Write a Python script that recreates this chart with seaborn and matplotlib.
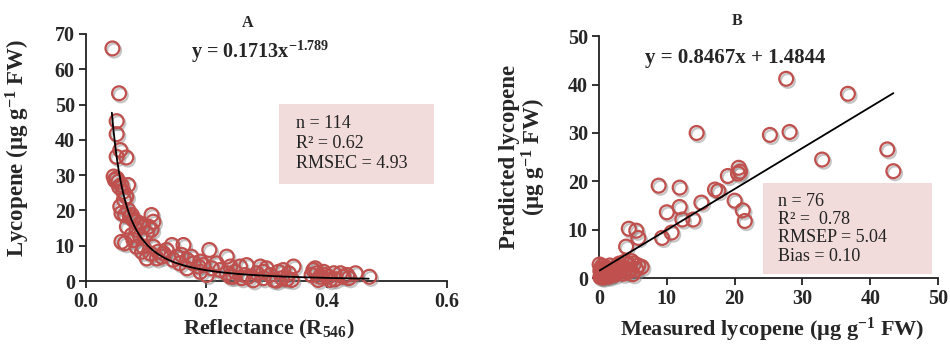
import matplotlib
matplotlib.use("Agg")
import numpy as np
import pandas as pd
import seaborn as sns
import matplotlib.pyplot as plt
import matplotlib.patheffects as pe
from matplotlib.patches import Rectangle

# ---------------- data ----------------
# Panel A: reflectance R546 vs lycopene (n = 114)
refl = [0.044, 0.055, 0.051, 0.051, 0.057, 0.051, 0.067, 0.046, 0.051, 0.054,
        0.059, 0.070, 0.062, 0.067, 0.057, 0.059, 0.065, 0.073, 0.079, 0.090,
        0.109, 0.112, 0.104, 0.084, 0.068, 0.059, 0.065, 0.079, 0.084, 0.093,
        0.101, 0.112, 0.120, 0.129, 0.143, 0.134, 0.151, 0.162, 0.159, 0.168,
        0.168, 0.179, 0.190, 0.201, 0.205, 0.217, 0.234, 0.240, 0.245, 0.256,
        0.267, 0.264, 0.278, 0.290, 0.295, 0.300, 0.312, 0.320, 0.328, 0.337,
        0.345, 0.342, 0.378, 0.384, 0.389, 0.398, 0.406, 0.412, 0.423, 0.434,
        0.448, 0.471, 0.048, 0.055, 0.063, 0.070, 0.076, 0.084, 0.095, 0.109,
        0.101, 0.090, 0.076, 0.095, 0.107, 0.118, 0.126, 0.145, 0.156, 0.175,
        0.187, 0.195, 0.209, 0.223, 0.240, 0.248, 0.259, 0.270, 0.284, 0.295,
        0.306, 0.317, 0.326, 0.334, 0.375, 0.381, 0.386, 0.395, 0.403, 0.414,
        0.428, 0.437, 0.234, 0.190]
lyco = [65.9, 53.2, 45.3, 41.6, 37.1, 35.2, 35.0, 29.6, 29.1, 28.1,
        27.2, 27.2, 25.3, 23.9, 21.1, 19.2, 18.7, 18.2, 17.3, 16.3,
        18.7, 16.8, 15.4, 14.5, 15.4, 11.1, 10.7, 11.6, 9.7, 8.3,
        6.4, 9.7, 8.3, 7.8, 10.2, 8.8, 6.9, 10.2, 7.4, 6.0,
        3.6, 5.0, 5.5, 1.7, 8.8, 5.0, 6.9, 4.1, 1.2, 4.1,
        4.5, 1.7, 0.2, 4.1, 2.6, 3.6, 0.3, 2.6, 3.1, 2.2,
        4.1, 0.3, 3.1, 2.2, 1.2, 1.7, 0.3, 2.2, 2.2, 1.7,
        2.2, 1.2, 28.6, 26.7, 23.0, 20.1, 18.7, 16.8, 15.4, 14.5,
        13.5, 12.6, 13.0, 9.7, 7.8, 6.4, 6.9, 6.0, 5.0, 6.9,
        4.1, 4.5, 3.6, 3.1, 1.2, 2.6, 0.8, 1.2, 2.2, 0.8,
        1.7, 0.1, 0.8, 0.5, 1.7, 3.6, 0.3, 2.6, 1.2, 0.5,
        1.2, 0.8, 2.2, 2.6]

# Panel B: measured vs predicted lycopene (n = 76)
measured = [27.6, 36.7, 14.4, 25.2, 28.1, 32.9, 42.5, 43.4, 8.8, 11.9,
            19.0, 20.6, 20.8, 20.5, 17.1, 17.6, 15.1, 20.0, 21.2, 21.5,
            10.0, 11.9, 12.3, 13.9, 9.3, 10.7, 4.4, 5.5, 5.8, 4.0,
            0.1, 0.2, 0.3, 0.3, 0.4, 0.5, 0.5, 0.6, 0.7, 0.8,
            0.9, 1.0, 1.0, 1.1, 1.2, 1.3, 1.4, 1.5, 1.6, 1.7,
            1.8, 2.0, 2.1, 2.2, 2.4, 2.5, 2.7, 2.9, 3.0, 3.2,
            3.4, 3.6, 3.8, 4.0, 4.2, 4.4, 4.6, 4.8, 5.0, 5.2,
            5.5, 5.8, 6.3, 0.2, 0.6, 1.5]
predicted = [41.2, 38.1, 30.0, 29.6, 30.2, 24.5, 26.6, 22.1, 19.1, 18.7,
             21.1, 22.8, 22.0, 21.6, 18.3, 18.0, 15.6, 16.0, 14.0, 11.8,
             13.6, 14.7, 12.1, 12.1, 8.3, 9.4, 10.2, 9.8, 8.3, 6.5,
             2.8, 1.5, 0.5, 2.0, 1.0, 0.3, 2.5, 1.2, 0.6, 1.8,
             0.4, 1.0, 2.2, 0.8, 1.5, 0.5, 1.9, 1.0, 2.6, 0.6,
             1.4, 0.9, 2.0, 1.3, 0.7, 1.8, 2.5, 1.2, 3.0, 1.6,
             2.2, 0.9, 3.4, 2.0, 1.2, 2.8, 1.6, 3.5, 0.8, 3.0,
             1.8, 2.6, 2.3, 0.2, 0.1, 0.3]

# fitted equations printed on the figure
pow_a, pow_b = 0.1713, -1.789
lin_m, lin_c = 0.8467, 1.4844
fit_a_range = (0.043, 0.47)
fit_b_range = (0.1, 43.4)

a_xticks = [0.0, 0.2, 0.4, 0.6]
a_xticklabels = ["0.0", "0.2", "0.4", "0.6"]
a_yticks = [0, 10, 20, 30, 40, 50, 60, 70]
b_ticks = [0, 10, 20, 30, 40, 50]

stats_a = ["n = 114", "R\u00b2 = 0.62", "RMSEC = 4.93"]
stats_b = ["n = 76", "R\u00b2 =  0.78", "RMSEP = 5.04", "Bias = 0.10"]

# ---------------- style ----------------
sns.set_style("ticks")
plt.rcParams["font.family"] = ["Liberation Serif", "DejaVu Serif"]
plt.rcParams["font.weight"] = "bold"
plt.rcParams["mathtext.fontset"] = "custom"
plt.rcParams["mathtext.rm"] = "Liberation Serif"
plt.rcParams["mathtext.bf"] = "Liberation Serif:bold"
plt.rcParams["mathtext.it"] = "Liberation Serif:italic"

RED = "#C0504D"
BOX = "#F2DCDB"
shadow = [pe.SimpleLineShadow(offset=(1.2, -1.5), shadow_color="gray", alpha=0.45),
          pe.Normal()]

fig = plt.figure(figsize=(9.5, 3.45), dpi=100)
axA = fig.add_axes([0.0905, 0.1855, 0.380, 0.716])
axB = fig.add_axes([0.6305, 0.194, 0.357, 0.701])


def style_axis(ax):
    sns.despine(ax=ax)
    for s in ["left", "bottom"]:
        ax.spines[s].set_linewidth(1.3)
        ax.spines[s].set_color("#222222")
    ax.tick_params(direction="out", length=5, width=1.3, labelsize=14.5,
                   color="#222222", pad=3)


def scatter(ax, x, y):
    df = pd.DataFrame({"x": x, "y": y})
    sns.scatterplot(data=df, x="x", y="y", ax=ax, marker="o", s=100,
                    facecolor="none", edgecolor=RED, linewidth=1.6,
                    clip_on=False, zorder=3, path_effects=shadow)


# ---------------- panel A ----------------
scatter(axA, refl, lyco)
xa = np.linspace(fit_a_range[0], fit_a_range[1], 300)
sns.lineplot(x=xa, y=pow_a * xa ** pow_b, ax=axA, color="black", lw=1.3, zorder=4)
axA.set_xlim(0, 0.6)
axA.set_ylim(0, 70)
axA.set_xticks(a_xticks)
axA.set_xticklabels(a_xticklabels)
axA.set_yticks(a_yticks)
style_axis(axA)
axA.set_xlabel(r"Reflectance (R$_{\mathbf{546}}$)", fontsize=16, fontweight="bold")
axA.set_ylabel(r"Lycopene (µg g$^{\mathbf{-1}}$ FW)", fontsize=16.5, fontweight="bold")
axA.xaxis.set_label_coords(0.507, -0.148)
axA.yaxis.set_label_coords(-0.15, 0.54)
axA.text(0.449, 1.045, "A", transform=axA.transAxes, ha="center", va="center",
         fontsize=11.5, fontweight="bold")
axA.text(0.482, 0.927, r"y = 0.1713x$^{\mathbf{-1.789}}$", transform=axA.transAxes,
         ha="center", va="center", fontsize=14.5, fontweight="bold")
axA.add_patch(Rectangle((0.535, 0.393), 0.429, 0.324, transform=axA.transAxes,
                        facecolor=BOX, edgecolor="none", zorder=1))
for txt, yy in zip(stats_a, [0.638, 0.557, 0.476]):
    axA.text(0.582, yy, txt, transform=axA.transAxes, ha="left", va="center",
             fontsize=13, fontweight="normal", color="#222222", zorder=2)

# ---------------- panel B ----------------
scatter(axB, measured, predicted)
xb = np.linspace(fit_b_range[0], fit_b_range[1], 50)
sns.lineplot(x=xb, y=lin_m * xb + lin_c, ax=axB, color="black", lw=1.3, zorder=4)
axB.set_xlim(0, 50)
axB.set_ylim(0, 50)
axB.set_xticks(b_ticks)
axB.set_yticks(b_ticks)
style_axis(axB)
axB.set_xlabel(r"Measured lycopene (µg g$^{\mathbf{-1}}$ FW)", fontsize=16,
               fontweight="bold")
axB.set_ylabel("Predicted lycopene\n" + r"(µg g$^{\mathbf{-1}}$ FW)", fontsize=16.5,
               fontweight="bold", linespacing=1.0)
axB.xaxis.set_label_coords(0.512, -0.158)
axB.yaxis.set_label_coords(-0.15, 0.50)
axB.text(0.407, 1.062, "B", transform=axB.transAxes, ha="center", va="center",
         fontsize=11.5, fontweight="bold")
axB.text(0.401, 0.909, "y = 0.8467x + 1.4844", transform=axB.transAxes,
         ha="center", va="center", fontsize=15, fontweight="bold")
axB.add_patch(Rectangle((0.484, 0.017), 0.498, 0.376, transform=axB.transAxes,
                        facecolor=BOX, edgecolor="none", zorder=1))
for txt, yy in zip(stats_b, [0.315, 0.244, 0.168, 0.091]):
    axB.text(0.528, yy, txt, transform=axB.transAxes, ha="left", va="center",
             fontsize=13, fontweight="normal", color="#222222", zorder=2)

fig.savefig("out.png", dpi=100, facecolor="white")
